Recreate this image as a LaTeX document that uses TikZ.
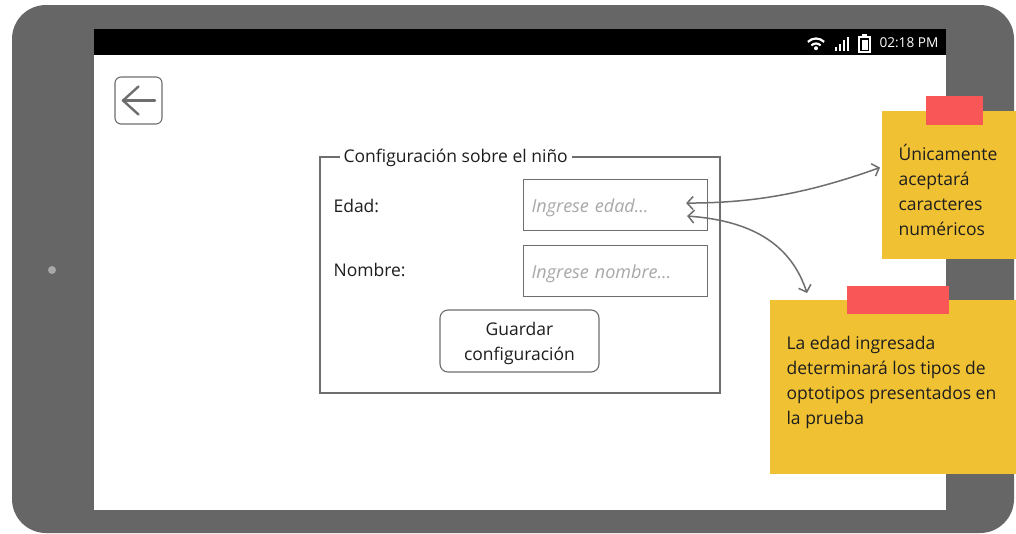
\documentclass[tikz,border=0pt]{standalone}
\usepackage{fontspec}
\setmainfont{Open Sans}
\usetikzlibrary{positioning,arrows.meta}
\definecolor{marco}{HTML}{666666}
\definecolor{linea}{HTML}{6E6E6E}
\definecolor{nota}{HTML}{F0C133}
\definecolor{cinta}{HTML}{F95757}
\definecolor{tenue}{HTML}{A8A8A8}
\definecolor{tinta}{HTML}{1E1E1E}

\begin{document}
\begin{tikzpicture}[x=1pt, y=-1pt, line width=1.1pt,
    texto/.style={text=tinta, font=\fontsize{17.5}{21}\selectfont, inner sep=0pt},
    campo/.style={draw=linea, minimum height=51pt, text width=168pt, text height=18.5pt, text depth=4.5pt, inner xsep=8pt, inner ysep=0pt, text=tenue, font=\fontsize{18}{21}\selectfont\itshape},
    boton/.style={draw=linea, rounded corners=8pt, minimum width=159pt, minimum height=62pt, text height=43pt, align=center, text=tinta, font=\fontsize{17.5}{25}\selectfont},
    notatexto/.style={text=tinta, align=left, font=\fontsize{17.5}{25}\selectfont, inner sep=0pt, anchor=base west},
    flecha/.style={draw=linea, line width=1.5pt, {Straight Barb[length=6pt,width=13pt]}-{Straight Barb[length=6pt,width=13pt]}},
    icono/.style={draw=linea, line width=2.4pt, line cap=round, line join=round}]
  \useasboundingbox (0,0) rectangle (1016,533);
  \fill[marco, rounded corners=34pt] (12,5) rectangle (1014,533);
  \fill[white] (94,29) rectangle (946,510);
  \fill[black] (94,29) rectangle (946,55);
  \fill[tenue] (52,270) circle (4pt);

  \begin{scope}[shift={(816,50)}, y=1pt]
    \draw[white, line width=2.2pt] (45:6.5) arc (45:135:6.5);
    \draw[white, line width=2.2pt] (45:11.5) arc (45:135:11.5);
    \fill[white] (0,1.8) circle (2pt);
  \end{scope}
  \foreach \i in {0,...,3}
    \fill[white] ({835+4*\i},51) rectangle ++(2.2,{-4-3.4*\i});
  \draw[white, line width=1.2pt] (859,37) rectangle (870,52);
  \fill[white] (861.5,40) rectangle (867.5,49.5);
  \fill[white] (862,34) rectangle (867,37);
  \node[anchor=west, text=white, font=\fontsize{13.6}{16}\selectfont, inner sep=0pt] (hora) at (879,43) {02:18 PM};

  \node[draw=linea, rounded corners=6pt, minimum size=47pt] (atras) at (138.5,100.5) {};
  \draw[icono] (atras.center) ++(-15.5,0) -- ++(32,0);
  \draw[icono] (atras.center) ++(0,-14) -- ++(-15.5,14) -- ++(15.5,14);

  \draw[linea] (320,157) rectangle (720,393);
  \node[texto, fill=white, inner xsep=4pt, anchor=west] (titulo) at (339,158) {Configuración sobre el niño};
  \node[texto, anchor=west] (lbledad) at (333,206) {Edad:};
  \node[texto, anchor=west] (lblnombre) at (333,270) {Nombre:};
  \node[campo, anchor=north west] (edad) at (523,179) {Ingrese edad…};
  \node[campo, below=14pt of edad] (nombre) {Ingrese nombre…};
  \node[boton] (guardar) at (519.5,341) {Guardar\\configuración};

  \fill[nota] (882,111) rectangle (1016,259);
  \node[minimum width=134pt, minimum height=148pt, anchor=north west, inner sep=0pt] (notaA) at (882,111) {};
  \node[notatexto] (txtA) at (898,235) {Únicamente\\aceptará\\caracteres\\numéricos};
  \fill[cinta] (926,96) rectangle (983,125);

  \fill[nota] (770,300) rectangle (1016,474);
  \node[minimum width=246pt, minimum height=174pt, anchor=north west, inner sep=0pt] (notaB) at (770,300) {};
  \node[notatexto] (txtB) at (786,424) {La edad ingresada\\determinará los tipos de\\optotipos presentados en\\la prueba};
  \fill[cinta] (847,286) rectangle (949,314);

  \draw[flecha] ([xshift=-22pt,yshift=2pt]edad.east) .. controls +(70,0) and +(-70,25) .. ([xshift=-2pt,yshift=18pt]notaA.west);
  \draw[flecha] ([xshift=-21pt,yshift=-11pt]edad.east) .. controls +(70,5) and +(-15,-45) .. ([xshift=37pt,yshift=7pt]notaB.north west);
\end{tikzpicture}
\end{document}
